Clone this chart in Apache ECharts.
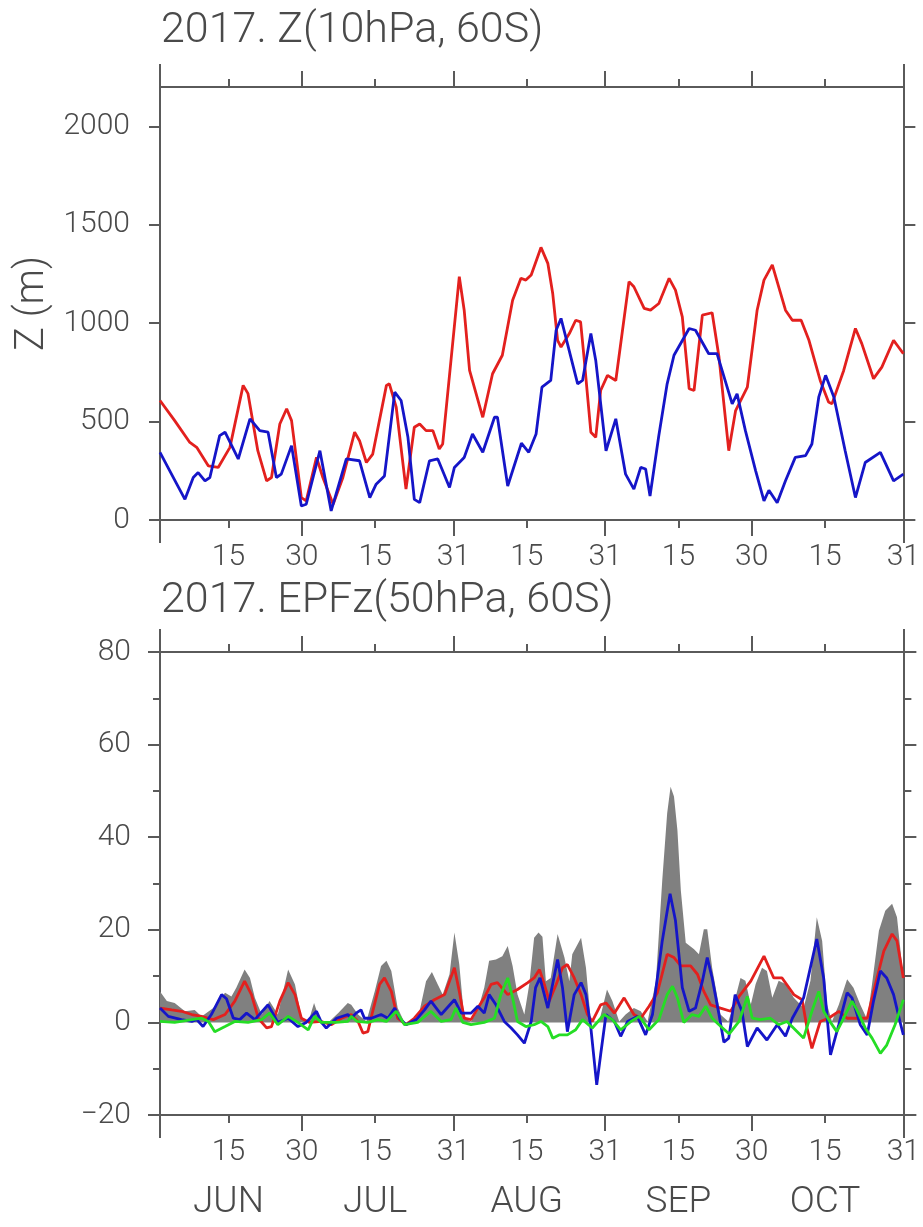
<!DOCTYPE html>
<html>
<head>
<meta charset="utf-8">
<script src="https://cdn.jsdelivr.net/npm/echarts@6/dist/echarts.min.js"></script>
<style>
html,body{margin:0;padding:0;background:#fff;}
#chart{width:923px;height:1227px;}
</style>
</head>
<body>
<div id="chart"></div>
<script>
// ---- X axis (day index: 0 = Jun 1, 152 = Oct 31) ----
var majorDays = [0, 29, 60, 91, 121, 152];
var minorDays = [14, 44, 75, 106, 136];
var dayTickDays = [14, 29, 44, 60, 75, 91, 106, 121, 136, 152];
var dayTickLabels = ['15', '30', '15', '31', '15', '31', '15', '30', '15', '31'];
var monthDays = [14, 44, 75, 106, 136];
var monthLabels = ['JUN', 'JUL', 'AUG', 'SEP', 'OCT'];
var zTicks = [0, 500, 1000, 1500, 2000];

// ---- Top panel: Z(10hPa, 60S) ----
var zRedDay = [0,3,6.1,7.5,9.9,11.9,14.3,17,18,20,21.8,22.8,24.5,25.9,26.9,28.9,29.9,32,33.3,35.4,37.4,39.8,40.8,42.2,43.5,46.3,46.9,48.3,50.3,52,53.1,54.4,55.8,57.1,57.8,61.2,62.2,63.3,66,68,70,72.1,73.8,74.8,75.9,77.9,79.3,80.3,81.3,82,83.7,85,86,86.7,88.1,89.1,90.1,91.5,93.2,95.9,96.9,99,100.3,102,104.1,105.4,106.8,108.2,109.2,110.9,112.9,114.3,116.3,117.7,120.1,122.1,123.5,125.2,127.9,129.3,131.1,132.7,135,136.7,137.4,139.8,142.2,143.5,145.9,147.6,150,151,152];
var zRedVal = [607,505,394,369,275,267,369,684,642,352,199,216,488,565,505,114,97,318,216,80,216,446,403,292,335,684,692,573,157,471,488,454,454,361,386,1236,1066,760,522,743,837,1117,1228,1219,1245,1385,1304,1151,913,879,947,1015,1007,828,446,420,658,735,709,1211,1185,1075,1066,1100,1228,1168,1032,667,658,1041,1053,828,352,556,675,1066,1219,1296,1066,1015,1015,913,709,599,590,760,973,896,718,777,913,879,845];
var zBlueDay = [0,2,5.1,6.8,7.8,9.2,10.2,12.2,13.3,16,18.4,20.4,22.1,23.8,24.8,26.9,28.9,29.9,32.7,35,38.1,40.8,42.9,44.2,45.9,48,49.3,50.7,52,53.1,55.1,56.8,59.2,60.2,62.2,63.9,66,68.4,69,71.1,73.9,75.4,76.9,78.1,79.9,81,82,85.4,86.4,88.1,89.1,91.2,93.2,95.2,96.9,98.3,99.3,100.2,102,103.7,105.1,108.2,109.5,112.2,113.9,117,118,119.7,121.8,123.5,124.5,126.2,127.9,129.9,132,133.3,134.7,136.1,137.8,140.1,142.2,144.2,147.3,150,152];
var zBlueVal = [344,250,105,216,241,199,216,429,446,310,514,454,446,216,233,378,71,80,352,46,310,301,114,182,224,650,607,420,105,88,301,310,165,267,318,437,344,522,522,173,390,344,437,675,709,964,1024,692,709,947,811,352,514,233,157,267,259,122,429,692,837,973,964,845,845,590,641,454,250,97,151,88,199,318,327,386,624,735,624,352,114,292,344,199,233];

// ---- Bottom panel: EPFz(50hPa, 60S) ----
var epGrayDay = [0,1.4,3,5.1,7.1,8.5,10.9,13.3,14.6,15.6,17.3,18.4,19.4,20.8,22.4,24.1,26.2,27.6,28.9,30.3,31.5,32.7,34.4,36.4,38.4,39.1,40.5,42.2,43.9,45.2,46.3,47.3,48.6,50,52.7,54.4,55.6,56.8,57.8,59.2,60.2,61.2,62.2,63.6,65,66.3,67.3,68.7,70,71.1,72.1,73.1,74.5,75.5,76.5,77.4,78.2,78.9,79.9,81.3,82.7,83.7,84.3,86.1,87.1,88.1,89.8,91.4,92.5,93.9,95.2,96.9,98.3,99.7,101.4,102.7,103.7,104.4,105.1,105.8,106.5,107.5,109.2,110.2,111.2,111.9,112.9,114.6,116.2,117.3,118.7,119.7,120.8,121.8,123.1,124.1,125.2,126.5,127.9,129.6,131.6,133,134.3,135.4,136.4,137.4,138.8,140.5,141.8,143.2,144.6,145.6,147,148.3,149.7,150.7,152];
var epGrayVal = [6.7,4.6,4.2,2.4,2.7,1.3,3.1,6.4,5.6,7.5,11.4,9.6,5.3,1.7,4.6,1.7,11.4,8.2,1.3,0,4.2,0.5,0,2.0,4.2,3.8,1.7,0.2,6.7,12.2,13.3,11.1,3.1,0,0.6,8.9,10.9,8.2,6.0,10.4,19.4,12.5,0.9,0.2,2.7,7.5,13.3,13.6,14.3,16.5,12.2,6.0,1.7,8.2,18.3,19.4,18.5,8.9,9.6,19.1,14.0,8.9,14.7,18.3,11.8,0.2,0.2,7.1,4.6,0.2,1.7,3.1,2.4,0.2,8.9,30.7,45.1,50.9,48.8,41.5,28.5,17.2,15.8,14.7,20.1,20.1,11.8,1.7,0.2,3.8,9.6,9.0,3.8,8.3,11.8,11.1,5.3,9.0,8.3,5.3,3.1,9.0,22.7,17.6,3.8,0.2,3.8,9.3,7.5,3.8,0.6,8.3,19.8,24.1,25.6,22.7,9.6];
var epRedDay = [0,2.4,4.4,6.5,8.5,10.9,13.3,15.3,17.3,18.7,20.1,21.8,22.8,24.5,26.2,27.6,28.9,30.6,33,35,37.1,39.1,40.5,41.5,42.5,43.5,44.9,45.9,47.3,48.6,50.3,52,54.1,56.1,58.2,60.2,61.2,62.2,63.6,65,66.3,67.7,69,71.1,73.1,75.2,76.5,77.6,78.6,79.6,81,82.3,83.3,84.7,86.1,87.4,88.4,90.1,91.2,92.9,94.9,96.9,98.3,100,101.7,103.7,105.1,106.5,108.5,109.9,111.2,112.6,114.6,116.7,118.4,120.8,123.5,125.5,127.2,129.6,131.3,132.3,133.3,135,136.7,138.8,140.5,142.5,144.6,146.3,148,149.7,150.7,152];
var epRedVal = [3.1,2.7,2.4,1.7,1.3,0.6,1.7,4.6,8.9,6.0,0.9,-1.2,-0.9,4.6,8.6,6.0,0.9,0,0.2,-0.5,0.9,1.7,0.2,-2.3,-2.0,2.4,8.2,9.6,6.7,0.9,-0.5,0.9,3.5,4.9,6.0,11.8,6.7,0.9,0.6,3.1,5.3,8.2,8.6,6.0,7.1,8.6,9.6,11.4,8.2,4.6,8.2,11.8,12.5,9.6,6.0,1.7,0.2,3.8,4.2,2.0,5.3,1.7,0.9,3.5,6.4,14.7,14.0,12.2,12.2,10.4,6.7,3.8,3.1,2.4,5.6,8.9,14.3,9.6,9.6,6.0,4.9,-1.2,-5.6,0.2,0.9,2.4,0.9,0.9,0.9,8.3,15.4,19.1,17.6,9.6];
var epBlueDay = [0,1.7,4.4,6.5,7.5,8.8,10.5,12.6,13.6,15,16.3,17.7,19.4,22.1,24.1,26.2,28.2,29.9,32,33,34,36.1,38.4,39.1,40.1,41.1,41.8,43.2,45.2,46.6,48,49,50.3,52.4,54.1,55.4,57.5,60.2,61.6,63.6,65,66.3,67.3,68.7,70.4,71.8,73.1,74.5,75.9,76.8,77.7,79.3,81.3,82.3,83.3,84.7,86.1,87.1,88.1,89.3,90.1,91.2,92.9,94.2,95.6,97.6,99.3,100.7,102.7,104.3,105.4,106.8,108.2,109.5,110.9,111.9,112.9,114.3,115.3,116.3,117.6,119,120.1,122.1,124.1,126.2,127.9,129.3,131.6,134.3,135.7,137.1,138.8,140.5,141.5,143.2,144.6,145.9,147.3,148.6,150,151.3,152];
var epBlueVal = [3.1,1.3,0.6,0.2,0.6,-0.9,1.7,6.0,5.1,0.9,0.6,2.0,0.6,3.8,0,0.9,-0.9,0,2.4,0,-1.2,0.9,1.7,0.9,2.0,2.7,0.9,0.9,1.7,0.9,3.1,0.9,-0.5,0.6,2.7,4.6,1.7,4.9,2.0,2.0,3.5,2.0,6.0,3.8,0.2,-1.2,-2.7,-4.5,0.2,7.5,9.6,3.1,13.6,7.5,-2.0,6.0,8.6,6.0,-1.2,-13.5,-7.0,1.7,0.2,-3.0,0.2,1.3,-2.7,1.7,17.6,27.8,22.0,7.5,2.4,3.1,8.9,14.0,9.6,1.7,-4.3,-3.4,6.0,2.4,-5.2,-1.2,-3.8,-0.5,-3.0,0.9,5.3,18.0,9.6,-7.0,-0.5,6.4,5.3,-0.5,-2.7,4.6,11.1,9.6,6.0,0.2,-2.7];
var epGreenDay = [0,3,6.5,8.5,9.9,11.2,13.3,15.3,18,20.8,22.4,24.1,26.2,28.2,30.3,31.6,33,36,38.4,39.1,40.3,42.5,44.6,46.3,48.3,50,52.7,55.4,57.5,59.5,60.5,61.9,63.6,66.3,68.4,69.7,71.1,72.1,73.1,74.8,76.5,77.9,79.3,80.3,81.6,83.3,85,86.4,88.4,90.8,92.5,94.2,96.3,98,100,102,103.7,104.8,105.8,107.1,108.8,110.2,111.6,112.9,114.3,116.4,118.4,120.1,121.1,122.8,124.8,126.5,128.2,130.3,131.6,133.3,134.7,135.7,137.1,138.4,139.8,141.5,142.5,144.2,145.6,147.3,148.6,150.3,152];
var epGreenVal = [0.2,0,0.6,0.9,0.2,-2.0,-0.9,0.2,0,0.6,2.0,-0.5,1.3,0,-1.6,1.3,0,0,0.2,1.3,0.2,0,0.6,0.2,2.4,-0.5,0,2.4,0.2,0.6,3.1,0,-0.5,0,0.9,6.0,9.6,5.3,0.2,-0.9,-0.5,0.2,-0.9,-3.4,-2.7,-2.7,-1.6,0.6,-1.2,1.7,0.6,-1.6,0.2,1.3,-1.6,0.6,6.0,7.8,5.3,0,1.7,1.3,3.5,0.9,-0.5,-2.5,0.2,5.6,0.9,0.6,0.9,-0.5,0.2,-2.0,-3.4,2.4,6.7,2.4,0,-2.0,0.9,4.6,2.7,-1.2,-3.4,-6.7,-4.9,-0.5,4.9];

function zip(a, b) { return a.map(function (d, i) { return [d, b[i]]; }); }

var FONT = 'Roboto';
var TXT = '#4a4a4a';
var AX = '#5a5a5a';
var axLine = { color: AX, width: 2 };
var tickStyle = { color: AX, width: 2 };

function xAxesFor(gi, withMonths) {
  var base = { type: 'value', gridIndex: gi, min: 0, max: 152, splitLine: { show: false } };
  function ax(o) { return Object.assign({}, base, o); }
  var arr = [];
  // main bottom with day labels
  arr.push(ax({
    position: 'bottom',
    axisLine: { show: true, onZero: false, lineStyle: axLine },
    axisTick: { show: true, inside: false, length: 16, customValues: majorDays, lineStyle: tickStyle },
    axisLabel: {
      show: true, customValues: dayTickDays, interval: 0, margin: 22,
      fontFamily: FONT, fontWeight: 300, fontSize: 30, color: TXT,
      formatter: function (v) { var i = dayTickDays.indexOf(v); return i >= 0 ? dayTickLabels[i] : ''; }
    }
  }));
  // minor bottom (15th) + month names
  arr.push(ax({
    position: 'bottom',
    axisLine: { show: false, onZero: false },
    axisTick: { show: true, inside: false, length: 8, customValues: minorDays, lineStyle: tickStyle },
    axisLabel: withMonths ? {
      show: true, customValues: monthDays, interval: 0, margin: 69,
      fontFamily: FONT, fontWeight: 300, fontSize: 37, color: TXT,
      formatter: function (v) { var i = monthDays.indexOf(v); return i >= 0 ? monthLabels[i] : ''; }
    } : { show: false }
  }));
  // end ticks bottom
  arr.push(ax({
    position: 'bottom',
    axisLine: { show: false, onZero: false },
    axisTick: { show: true, inside: false, length: 23, customValues: [0, 152], lineStyle: tickStyle },
    axisLabel: { show: false }
  }));
  // top major
  arr.push(ax({
    position: 'top',
    axisLine: { show: true, onZero: false, lineStyle: axLine },
    axisTick: { show: true, inside: false, length: 16, customValues: majorDays, lineStyle: tickStyle },
    axisLabel: { show: false }
  }));
  // top minor
  arr.push(ax({
    position: 'top',
    axisLine: { show: false, onZero: false },
    axisTick: { show: true, inside: false, length: 8, customValues: minorDays, lineStyle: tickStyle },
    axisLabel: { show: false }
  }));
  // top ends
  arr.push(ax({
    position: 'top',
    axisLine: { show: false, onZero: false },
    axisTick: { show: true, inside: false, length: 23, customValues: [0, 152], lineStyle: tickStyle },
    axisLabel: { show: false }
  }));
  return arr;
}

var xAxes = xAxesFor(0, false).concat(xAxesFor(1, true));

function plainNum(v) { return String(v).replace('-', '\u2212'); }

var yAxes = [
  {
    type: 'value', gridIndex: 0, min: 0, max: 2200, position: 'left',
    name: 'Z (m)', nameLocation: 'middle', nameRotate: 90, nameGap: 104,
    nameTextStyle: { fontFamily: FONT, fontWeight: 300, fontSize: 40, color: TXT },
    axisLine: { show: true, onZero: false, lineStyle: axLine },
    axisTick: { show: true, inside: false, length: 11, customValues: zTicks, lineStyle: tickStyle },
    axisLabel: { show: true, customValues: zTicks, margin: 30, fontFamily: FONT, fontWeight: 300, fontSize: 30, color: TXT, formatter: plainNum },
    splitLine: { show: false }
  },
  {
    type: 'value', gridIndex: 0, min: 0, max: 2200, position: 'right',
    axisLine: { show: true, onZero: false, lineStyle: axLine },
    axisTick: { show: true, inside: false, length: 12, customValues: zTicks, lineStyle: tickStyle },
    axisLabel: { show: false },
    splitLine: { show: false }
  },
  {
    type: 'value', gridIndex: 1, min: -20, max: 80, interval: 20, position: 'left',
    axisLine: { show: true, onZero: false, lineStyle: axLine },
    axisTick: { show: true, inside: false, length: 12, lineStyle: tickStyle },
    minorTick: { show: true, splitNumber: 2, length: 7, lineStyle: tickStyle },
    axisLabel: { show: true, margin: 29, fontFamily: FONT, fontWeight: 300, fontSize: 30, color: TXT, formatter: plainNum },
    splitLine: { show: false }, minorSplitLine: { show: false }
  },
  {
    type: 'value', gridIndex: 1, min: -20, max: 80, interval: 20, position: 'right',
    axisLine: { show: true, onZero: false, lineStyle: axLine },
    axisTick: { show: true, inside: false, length: 13, lineStyle: tickStyle },
    minorTick: { show: true, splitNumber: 2, length: 8, lineStyle: tickStyle },
    axisLabel: { show: false },
    splitLine: { show: false }, minorSplitLine: { show: false }
  }
];

function lineSeries(name, days, vals, color, xi, yi, width) {
  return {
    name: name, type: 'line', xAxisIndex: xi, yAxisIndex: yi,
    data: zip(days, vals), showSymbol: false, symbol: 'none',
    lineStyle: { color: color, width: width || 2.8 }, itemStyle: { color: color },
    z: 3
  };
}

var RED = '#e3201e', BLUE = '#1515c8', GREEN = '#25dd25', GRAY = '#808080';

var option = {
  animation: false,
  backgroundColor: '#ffffff',
  title: [
    { text: '2017. Z(10hPa, 60S)', left: 161, top: 10, padding: 0,
      textStyle: { fontFamily: FONT, fontWeight: 300, fontSize: 43, color: TXT } },
    { text: '2017. EPFz(50hPa, 60S)', left: 161, top: 580, padding: 0,
      textStyle: { fontFamily: FONT, fontWeight: 300, fontSize: 43, color: TXT } }
  ],
  grid: [
    { left: 160, right: 18, top: 87, height: 433, containLabel: false },
    { left: 160, right: 18, top: 652, height: 463, containLabel: false }
  ],
  xAxis: xAxes,
  yAxis: yAxes,
  series: [
    lineSeries('Z red', zRedDay, zRedVal, RED, 0, 0),
    lineSeries('Z blue', zBlueDay, zBlueVal, BLUE, 0, 0),
    {
      name: 'EPFz total', type: 'line', xAxisIndex: 6, yAxisIndex: 2,
      data: zip(epGrayDay, epGrayVal), showSymbol: false, symbol: 'none',
      lineStyle: { width: 0, color: GRAY }, itemStyle: { color: GRAY },
      areaStyle: { color: GRAY, opacity: 1, origin: 0 }, z: 2
    },
    lineSeries('EPFz red', epRedDay, epRedVal, RED, 6, 2),
    lineSeries('EPFz blue', epBlueDay, epBlueVal, BLUE, 6, 2),
    lineSeries('EPFz green', epGreenDay, epGreenVal, GREEN, 6, 2)
  ]
};

var chart = echarts.init(document.getElementById('chart'), null, { renderer: 'canvas' });
chart.setOption(option);
</script>
</body>
</html>
